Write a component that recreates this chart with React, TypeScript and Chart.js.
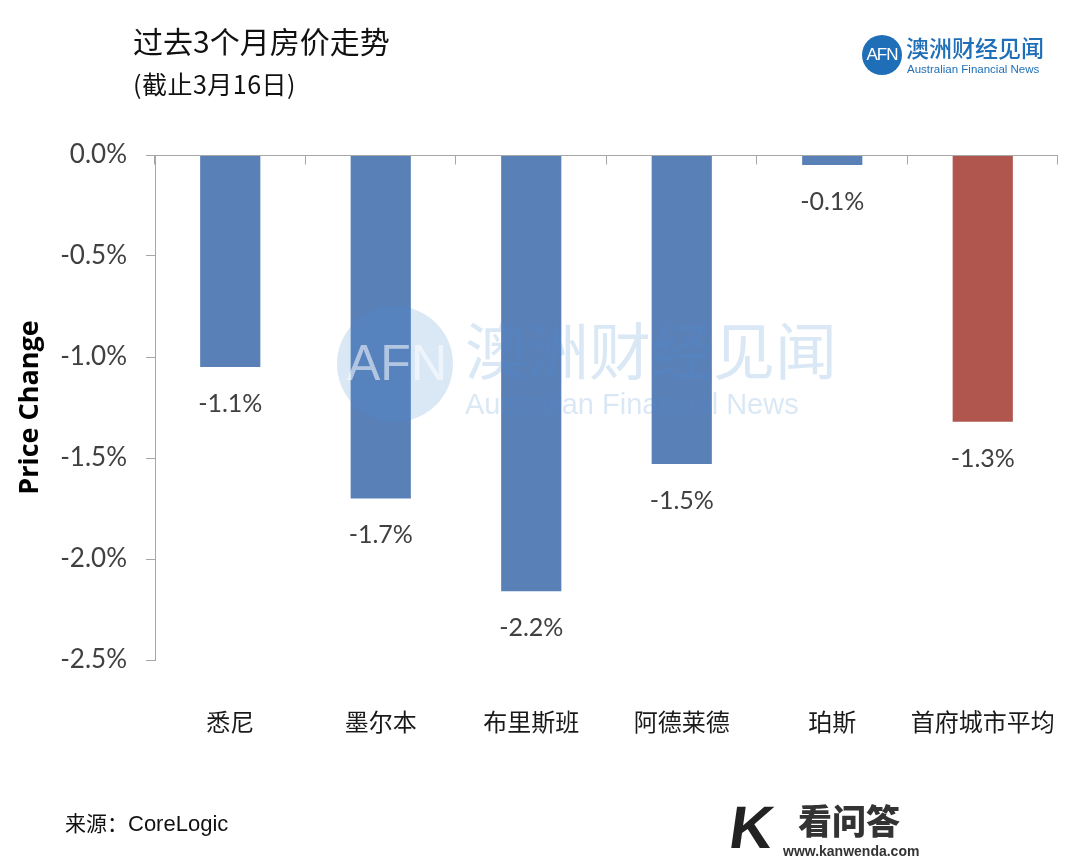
import React, { useEffect, useRef } from "react";
import { Chart, registerables } from "chart.js";
Chart.register(...registerables);

const categories = ["悉尼", "墨尔本", "布里斯班", "阿德莱德", "珀斯", "首府城市平均"];
const priceChange = [-1.05, -1.7, -2.16, -1.53, -0.05, -1.32];
const valueLabels = ["-1.1%", "-1.7%", "-2.2%", "-1.5%", "-0.1%", "-1.3%"];
const barColors = ["#5a80b8", "#5a80b8", "#5a80b8", "#5a80b8", "#5a80b8", "#b0564f"];
const yMin = -2.5;
const yMax = 0;
const yStep = 0.5;

const CJK = '"Noto Sans CJK SC", sans-serif';

const topAxisPlugin = {
  id: "topAxis",
  afterDatasetsDraw(chart: any) {
    const { ctx, chartArea, scales } = chart;
    const x = scales.x;
    const y = scales.y;
    const y0 = Math.round(y.getPixelForValue(0)) + 0.5;
    ctx.save();
    ctx.strokeStyle = "#a6a6a6";
    ctx.lineWidth = 1;
    ctx.beginPath();
    ctx.moveTo(chartArea.left, y0);
    ctx.lineTo(chartArea.right, y0);
    for (let i = 0; i <= categories.length; i++) {
      const bx = Math.round(x.getPixelForValue(i - 0.5)) - 0.5;
      ctx.moveTo(bx, y0);
      ctx.lineTo(bx, y0 + 9);
    }
    ctx.stroke();
    ctx.restore();
  },
};

const labelPlugin = {
  id: "valueLabels",
  afterDatasetsDraw(chart: any) {
    const { ctx } = chart;
    const meta = chart.getDatasetMeta(0);
    ctx.save();
    ctx.font = '25px Lato, sans-serif';
    ctx.fillStyle = "#404040";
    ctx.textAlign = "center";
    ctx.textBaseline = "middle";
    meta.data.forEach((bar: any, i: number) => {
      ctx.fillText(valueLabels[i], bar.x, bar.y + 37);
    });
    ctx.restore();
  },
};

const watermarkPlugin = {
  id: "watermark",
  afterDraw(chart: any) {
    const { ctx } = chart;
    ctx.save();
    const col = "rgba(70,140,210,0.2)";
    ctx.fillStyle = col;
    ctx.beginPath();
    ctx.arc(395, 364, 58, 0, Math.PI * 2);
    ctx.fill();
    ctx.fillStyle = "rgba(255,255,255,0.55)";
    ctx.font = '50px "Liberation Sans", sans-serif';
    ctx.textAlign = "center";
    ctx.textBaseline = "middle";
    ctx.fillText("AFN", 397, 366);
    ctx.fillStyle = col;
    ctx.textAlign = "left";
    ctx.textBaseline = "alphabetic";
    ctx.font = '62px ' + CJK;
    ctx.fillText("澳洲财经见闻", 465, 375);
    ctx.font = '29px "Liberation Sans", sans-serif';
    ctx.fillText("Australian Financial News", 465, 414);
    ctx.restore();
  },
};

export default function App() {
  const ref = useRef<HTMLCanvasElement>(null);
  useEffect(() => {
    if (!ref.current) return;
    const chart = new Chart(ref.current, {
      type: "bar",
      data: {
        labels: categories,
        datasets: [
          {
            data: priceChange,
            backgroundColor: barColors,
            borderWidth: 0,
            barPercentage: 0.4,
            categoryPercentage: 1,
          },
        ],
      },
      options: {
        responsive: false,
        animation: false,
        layout: { padding: { top: 155, right: 22, left: 0, bottom: 0 } },
        plugins: { legend: { display: false }, tooltip: { enabled: false }, title: { display: false } },
        scales: {
          x: {
            position: "bottom",
            grid: { display: false },
            border: { display: false },
            ticks: { padding: 39, color: "#1a1a1a", font: { family: CJK, size: 24 }, maxRotation: 0 },
            afterFit: (s: any) => {
              s.height = 205;
              s.paddingLeft = 0;
              s.paddingRight = 0;
            },
          },
          y: {
            min: yMin,
            max: yMax,
            border: { display: true, color: "#a6a6a6", width: 1 },
            grid: { drawOnChartArea: false, drawTicks: true, tickLength: 9, color: "#a6a6a6" },
            ticks: {
              stepSize: yStep,
              padding: 19,
              color: "#404040",
              font: { family: "Lato, sans-serif", size: 26 },
              callback: (v: any) => Number(v).toFixed(1) + "%",
            },
            title: {
              display: true,
              text: "Price Change",
              color: "#000",
              font: { family: '"Open Sans", sans-serif', size: 27, weight: "bold" },
              padding: { top: 14, bottom: 0 },
            },
            afterFit: (s: any) => {
              s.width = 155;
              s.paddingTop = 0;
              s.paddingBottom = 0;
            },
          },
        },
      },
      plugins: [topAxisPlugin, labelPlugin, watermarkPlugin],
    });
    return () => chart.destroy();
  }, []);

  return (
    <div style={{ position: "absolute", left: 0, top: 0, width: 1080, height: 865, background: "#fff", overflow: "hidden" }}>
      <canvas ref={ref} width={1080} height={865} style={{ position: "absolute", left: 0, top: 0 }} />
      <div style={{ position: "absolute", left: 133, top: 22, fontFamily: CJK, fontSize: 30, lineHeight: "36px", color: "#111", whiteSpace: "nowrap" }}>
        过去3个月房价走势
      </div>
      <div style={{ position: "absolute", left: 133, top: 68, fontFamily: CJK, fontSize: 25, lineHeight: "30px", color: "#111", whiteSpace: "nowrap", letterSpacing: 0.5 }}>
        (截止3月16日)
      </div>
      {/* logo */}
      <div style={{ position: "absolute", left: 862, top: 35, width: 40, height: 40, borderRadius: 20, background: "#1f6fb8", color: "#fff", fontFamily: '"Liberation Sans", sans-serif', fontSize: 17, lineHeight: "40px", textAlign: "center", letterSpacing: -1 }}>
        AFN
      </div>
      <div style={{ position: "absolute", left: 906, top: 33, fontFamily: CJK, fontSize: 23, lineHeight: "28px", color: "#1f6fb8", whiteSpace: "nowrap", fontWeight: 500 }}>
        澳洲财经见闻
      </div>
      <div style={{ position: "absolute", left: 907, top: 62, fontFamily: '"Liberation Sans", sans-serif', fontSize: 11.5, lineHeight: "14px", color: "#1f6fb8", whiteSpace: "nowrap" }}>
        Australian Financial News
      </div>
      <div style={{ position: "absolute", left: 65, top: 808, fontFamily: CJK, fontSize: 21, lineHeight: "28px", color: "#111", whiteSpace: "nowrap" }}>
        来源：<span style={{ fontFamily: '"Liberation Sans", sans-serif', fontSize: 22 }}>CoreLogic</span>
      </div>
      {/* kanwenda mark */}
      <div style={{ position: "absolute", left: 730, top: 798, fontFamily: '"Liberation Sans", sans-serif', fontSize: 60, lineHeight: "60px", color: "#222", fontWeight: "bold", transform: "skewX(-8deg)" }}>
        K
      </div>
      <div style={{ position: "absolute", left: 798, top: 800, fontFamily: CJK, fontSize: 34, lineHeight: "40px", color: "#333", fontWeight: 900, whiteSpace: "nowrap" }}>
        看问答
      </div>
      <div style={{ position: "absolute", left: 783, top: 843, fontFamily: '"Liberation Sans", sans-serif', fontSize: 14, lineHeight: "16px", color: "#333", fontWeight: "bold", whiteSpace: "nowrap" }}>
        www.kanwenda.com
      </div>
    </div>
  );
}
